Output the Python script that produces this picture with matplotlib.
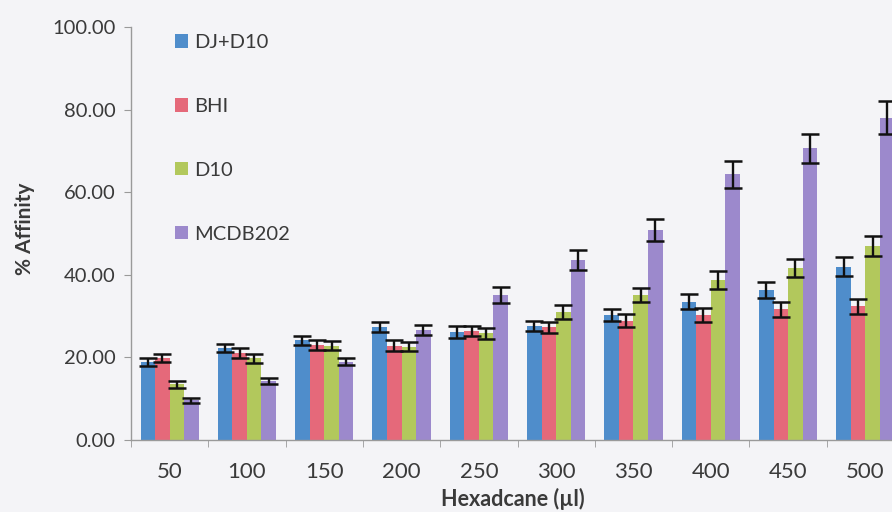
import numpy as np
import matplotlib
matplotlib.use('Agg')
import matplotlib.pyplot as plt
from matplotlib.patches import Patch

# data
categories = ['50', '100', '150', '200', '250', '300', '350', '400', '450', '500']
series_names = ['DJ+D10', 'BHI', 'D10', 'MCDB202']
dj_d10 = [18.8, 22.3, 24.2, 27.3, 26.2, 27.6, 30.3, 33.5, 36.3, 42.0]
bhi = [19.9, 21.1, 23.0, 22.8, 26.4, 27.3, 28.9, 30.2, 31.6, 32.4]
d10 = [13.5, 19.8, 22.8, 22.6, 25.8, 31.0, 35.1, 38.7, 41.6, 47.0]
mcdb202 = [9.6, 14.3, 19.0, 26.6, 35.1, 43.6, 50.8, 64.3, 70.6, 78.0]
dj_err = [1.0, 1.0, 1.1, 1.2, 1.4, 1.2, 1.4, 1.8, 1.9, 2.3]
bhi_err = [1.0, 1.2, 1.2, 1.3, 1.3, 1.3, 1.6, 1.7, 1.8, 1.8]
d10_err = [0.8, 1.1, 1.1, 1.1, 1.4, 1.6, 1.6, 2.1, 2.2, 2.4]
mcdb_err = [0.6, 0.8, 0.9, 1.2, 1.9, 2.4, 2.7, 3.2, 3.6, 4.0]

values = [dj_d10, bhi, d10, mcdb202]
errors = [dj_err, bhi_err, d10_err, mcdb_err]
colors = ['#4F8DCB', '#E5697A', '#B2C85C', '#9C89CC']

bg = '#F4F4F7'
txt = '#3A3A3A'
font = 'Lato'

fig = plt.figure(figsize=(8.92, 5.12), dpi=100, facecolor=bg)
ax = fig.add_axes([131/892, 72/512, 773/892, 413/512])
ax.set_facecolor(bg)

x = np.arange(len(categories))
w = 0.188
for i, (vals, errs, c) in enumerate(zip(values, errors, colors)):
    ax.bar(x + (i - 1.5) * w, vals, w, color=c, linewidth=0,
           yerr=errs, capsize=6.5, error_kw=dict(ecolor='#111111', elinewidth=1.7, capthick=1.8))

ax.set_xlim(-0.5, len(categories) - 0.5)
ax.set_ylim(0, 100)
ax.set_yticks(np.arange(0, 101, 20))
ax.set_yticklabels(['%.2f' % v for v in np.arange(0, 101, 20)], fontname=font, fontsize=14.5, color=txt)
ax.set_xticks(x)
ax.set_xticklabels(categories, fontname=font, fontsize=16, color=txt)
ax.set_xticks(np.arange(-0.5, len(categories) - 0.4, 1), minor=True)
ax.tick_params(axis='x', which='major', length=0, pad=16)
ax.tick_params(axis='x', which='minor', length=5, color='#9A9A9A', direction='out')
ax.tick_params(axis='y', length=5, color='#9A9A9A', direction='out', pad=6)

for s in ['top', 'right']:
    ax.spines[s].set_visible(False)
for s in ['left', 'bottom']:
    ax.spines[s].set_color('#9A9A9A')
    ax.spines[s].set_linewidth(1.0)

fig.text(25/892, 1 - 229/512, '% Affinity', fontname=font, fontsize=15, fontweight='bold',
         color=txt, ha='center', va='center', rotation=90)
fig.text(513/892, 1 - 499/512, 'Hexadcane (µl)', fontname=font, fontsize=15.5, fontweight='bold',
         color=txt, ha='center', va='center')

handles = [Patch(facecolor=c, edgecolor='none') for c in colors]
leg = ax.legend(handles, series_names, loc='upper left', bbox_to_anchor=(0.034, 1.027),
                frameon=False, handlelength=0.65, handleheight=0.65, handletextpad=0.3,
                labelspacing=2.33, prop={'family': font, 'size': 14.5})
for t in leg.get_texts():
    t.set_color(txt)

fig.savefig('out.png', dpi=100, facecolor=bg)
